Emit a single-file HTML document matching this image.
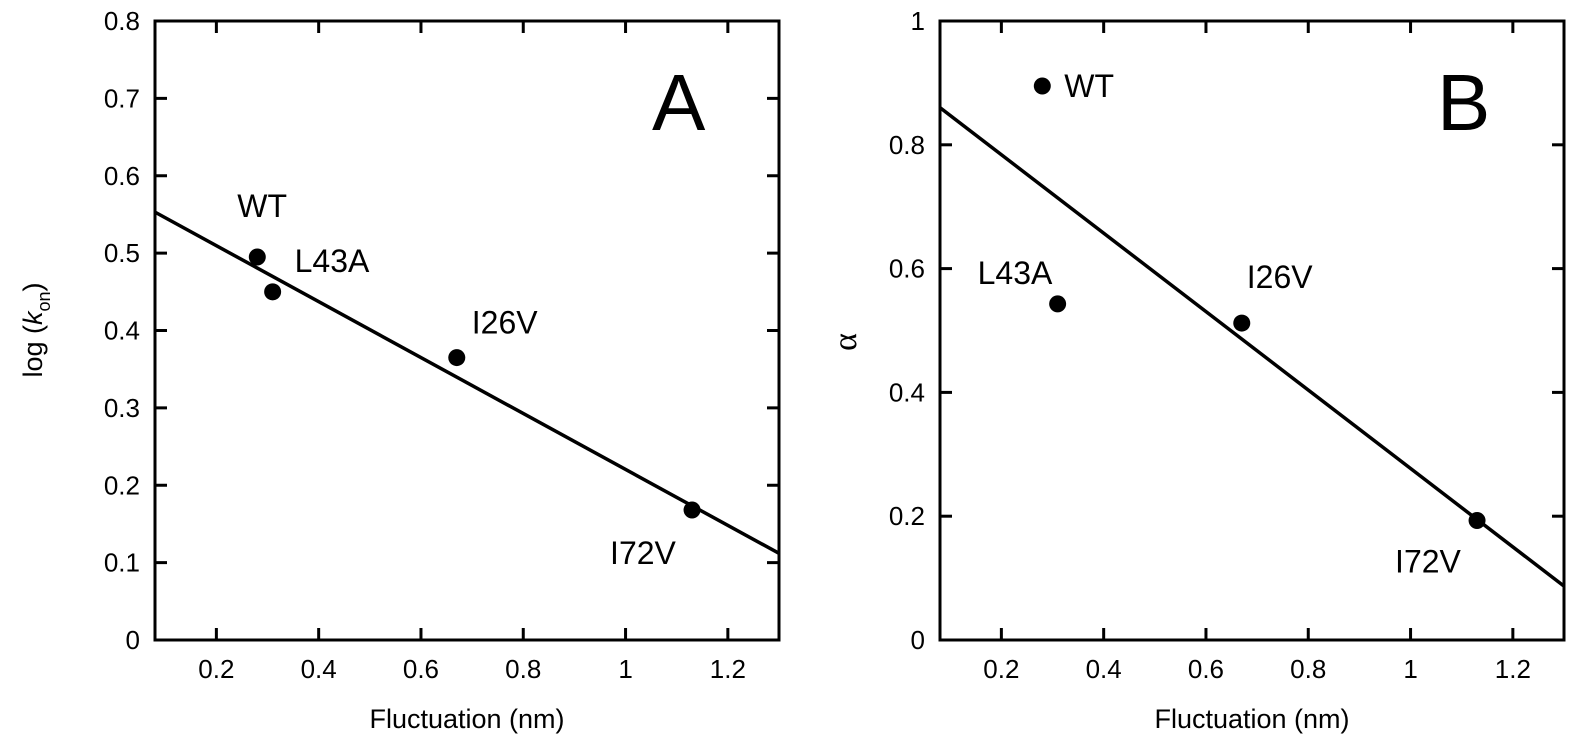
<!DOCTYPE html>
<html><head><meta charset="utf-8"><style>
html,body{margin:0;padding:0;background:#fff}
svg{display:block;font-family:"Liberation Sans",Arial,sans-serif}
</style></head><body>
<svg id="c" width="1575" height="750" viewBox="0 0 1575 750"></svg>
<script>
const labels=["WT","L43A","I26V","I72V"];
const fluct=[0.28,0.31,0.67,1.13];
const logKon=[0.495,0.45,0.365,0.168];
const alphaVals=[0.895,0.543,0.512,0.193];
const fitA=[0.553,0.112];
const fitB=[0.86,0.087];
const xTicks=[0.2,0.4,0.6,0.8,1,1.2];
const yTicksA=[0,0.1,0.2,0.3,0.4,0.5,0.6,0.7,0.8];
const yTicksB=[0,0.2,0.4,0.6,0.8,1];
const NS="http://www.w3.org/2000/svg";
const svg=document.getElementById('c');
function el(t,a,p){const e=document.createElementNS(NS,t);for(const k in a)e.setAttribute(k,a[k]);(p||svg).appendChild(e);return e;}
function panel(opt){
  const g=el('g',{});
  
  
  const L=opt.left,R=opt.left+624,T=21,B=640,xmin=0.08,xmax=1.3;
  const sx=v=>L+(v-xmin)/(xmax-xmin)*(R-L);
  const sy=v=>B-(v-opt.ymin)/(opt.ymax-opt.ymin)*(B-T);
  const fr=el('rect',{x:L,y:T,width:R-L,height:B-T,fill:'none',stroke:'#000','stroke-width':3},g);
  
  
  xTicks.forEach(v=>{
    const x=sx(v);
    el('line',{x1:x,y1:B,x2:x,y2:B-12,stroke:'#000','stroke-width':3},g);
    el('line',{x1:x,y1:T,x2:x,y2:T+12,stroke:'#000','stroke-width':3},g);
    const t=el('text',{x:x,y:B+38,'text-anchor':'middle','font-size':26},g);
    t.textContent=String(v);
    
    
  });
  opt.yTicks.forEach(v=>{
    const y=sy(v);
    el('line',{x1:L,y1:y,x2:L+12,y2:y,stroke:'#000','stroke-width':3},g);
    el('line',{x1:R,y1:y,x2:R-12,y2:y,stroke:'#000','stroke-width':3},g);
    const t=el('text',{x:L-15,y:y+9,'text-anchor':'end','font-size':26},g);
    t.textContent=String(v);
    
    
  });
  const fl=el('line',{x1:sx(xmin),y1:sy(opt.fit[0]),x2:sx(xmax),y2:sy(opt.fit[1]),stroke:'#000','stroke-width':3.5},g);
  
  
  fluct.forEach((v,i)=>{
    const c=el('circle',{cx:sx(v),cy:sy(opt.vals[i]),r:8.5,fill:'#000'},g);
    
    
    const t=el('text',{x:sx(v)+opt.off[i][0],y:sy(opt.vals[i])+opt.off[i][1],'font-size':32},g);
    t.textContent=labels[i];
    
    
  });
  const xt=el('text',{x:(L+R)/2,y:728,'text-anchor':'middle','font-size':27},g);
  xt.textContent='Fluctuation (nm)';
  
  
  const pl=el('text',{x:opt.letterX,y:130,'font-size':80},g);
  pl.textContent=opt.letter;
  
  
  return {sx,sy};
}
panel({name:'panel-a',left:155,ymin:0,ymax:0.8,yTicks:yTicksA,vals:logKon,fit:fitA,letter:'A',letterX:652,
  off:[[-20,-40],[22,-20],[15,-24],[-82,54]]});
panel({name:'panel-b',left:940,ymin:0,ymax:1,yTicks:yTicksB,vals:alphaVals,fit:fitB,letter:'B',letterX:1437,
  off:[[22,11],[-80,-20],[5,-35],[-82,52]]});
const yA=el('text',{transform:'translate(42,330) rotate(-90)','text-anchor':'middle','font-size':27});
yA.innerHTML='log (<tspan font-style="italic">k</tspan><tspan font-size="18" dy="8">on</tspan><tspan dy="-8">)</tspan>';


const yB=el('text',{transform:'translate(856,342) rotate(-90)','text-anchor':'middle','font-size':34,'font-family':'"Liberation Serif",serif'});
yB.textContent='α';


</script>
</body></html>
